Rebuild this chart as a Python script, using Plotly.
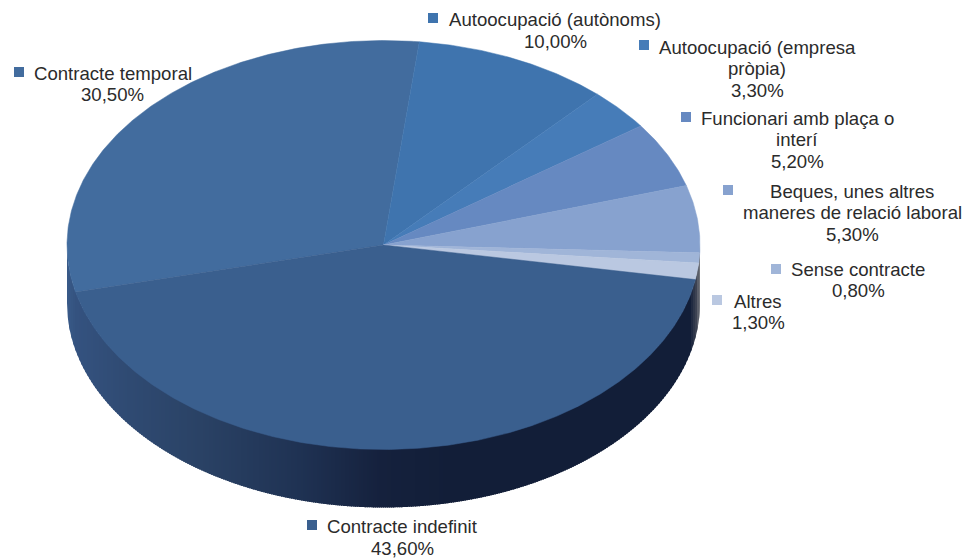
import numpy as np
import plotly.graph_objects as go

labels = ["Contracte temporal", "Autoocupació (autònoms)", "Autoocupació (empresa<br>pròpia)",
          "Funcionari amb plaça o<br>interí", "Beques, unes altres<br>maneres de relació laboral",
          "Sense contracte", "Altres", "Contracte indefinit"]
values = [30.5, 10.0, 3.3, 5.2, 5.3, 0.8, 1.3, 43.6]
value_text = ["30,50%", "10,00%", "3,30%", "5,20%", "5,30%", "0,80%", "1,30%", "43,60%"]
colors = ["#426C9E", "#3F74AE", "#467CB8", "#6689C1", "#87A2CF", "#A0B5D8", "#BAC8E1", "#3A5F8E"]

# layout of the drawing, in page pixels
label_x = [112.5, 555, 757, 797, 852, 858, 758, 402]
label_y = [84, 30.5, 68.5, 139.5, 212.5, 280, 312, 537.5]
key_x = [19, 433, 644, 686, 728, 776, 717, 312]
key_y = [72, 18, 45, 117, 190, 269, 300, 525]
LINE_PITCH = 21.5
CX, CY, RX, RY, DEPTH = 383.5, 245, 316.5, 204.5, 58
START = -103.3
WALL_STOPS = [(67, (56, 90, 136)), (76, (52, 82, 127)), (130, (47, 74, 114)), (200, (42, 66, 101)),
              (300, (31, 50, 83)), (380, (21, 33, 61)), (450, (18, 30, 56)), (690, (18, 30, 56)),
              (696, (60, 66, 82)), (700, (120, 122, 128))]


def ex(t):
    return CX + RX * np.sin(np.radians(t))


def ey(t):
    return CY - RY * np.cos(np.radians(t))


def front_y(x):
    return CY + RY * np.sqrt(np.clip(1 - ((x - CX) / RX) ** 2, 0, 1))


def wall_color(x):
    xs = [s[0] for s in WALL_STOPS]
    c = [np.interp(x, xs, [s[1][i] for s in WALL_STOPS]) for i in range(3)]
    return "rgb(%d,%d,%d)" % tuple(int(round(v)) for v in c)


fig = go.Figure()

# side wall of the disc: narrow vertical bands painted left to right, each overlapping the next
edges = np.concatenate([np.arange(CX - RX, CX + RX, 2.0), [CX + RX]])
for x0, x1 in zip(edges[:-1], edges[1:]):
    xr = min(x1 + 1.0, CX + RX)
    xx = np.linspace(x0, xr, 5)
    top = front_y(xx) - 1
    bottom = front_y(xx) + DEPTH
    col = wall_color((x0 + x1) / 2)
    fig.add_trace(go.Scatter(x=list(xx) + list(xx[::-1]), y=list(top) + list(bottom[::-1]),
                             mode="none", fill="toself", fillcolor=col,
                             hoverinfo="skip", showlegend=False))

# top faces
angle = START
for name, v, col in zip(labels, values, colors):
    sweep = v * 3.6
    ts = np.linspace(angle, angle + sweep, max(int(sweep * 2), 4))
    xs = [CX] + list(ex(ts)) + [CX]
    ys = [CY] + list(ey(ts)) + [CY]
    fig.add_trace(go.Scatter(x=xs, y=ys, mode="lines", fill="toself", fillcolor=col,
                             line=dict(color=col, width=0.5), name=name.replace("<br>", " "),
                             hoverinfo="name", showlegend=False))
    angle += sweep

# label keys
fig.add_trace(go.Scatter(x=key_x, y=key_y, mode="markers", hoverinfo="skip", showlegend=False,
                         marker=dict(symbol="square", size=10, color=colors, line=dict(width=0))))

annotations = []
for x, y, l, t in zip(label_x, label_y, labels, value_text):
    lines = l.split("<br>") + [t]
    for i, line in enumerate(lines):
        annotations.append(dict(x=x, y=y + (i - (len(lines) - 1) / 2) * LINE_PITCH, xref="x", yref="y",
                                text=line, showarrow=False, xanchor="center", yanchor="middle",
                                font=dict(family="Liberation Sans, Arial, sans-serif", size=18.6,
                                          color="#2b2b2b")))

fig.update_layout(
    width=969, height=558, margin=dict(l=0, r=0, t=0, b=0),
    paper_bgcolor="white", plot_bgcolor="white", showlegend=False, annotations=annotations,
    xaxis=dict(range=[0, 969], visible=False, fixedrange=True),
    yaxis=dict(range=[558, 0], visible=False, fixedrange=True),
)
fig.write_html("out.html", config=dict(displayModeBar=False),
               post_script="document.body.style.margin='0';document.body.style.overflow='hidden';")
